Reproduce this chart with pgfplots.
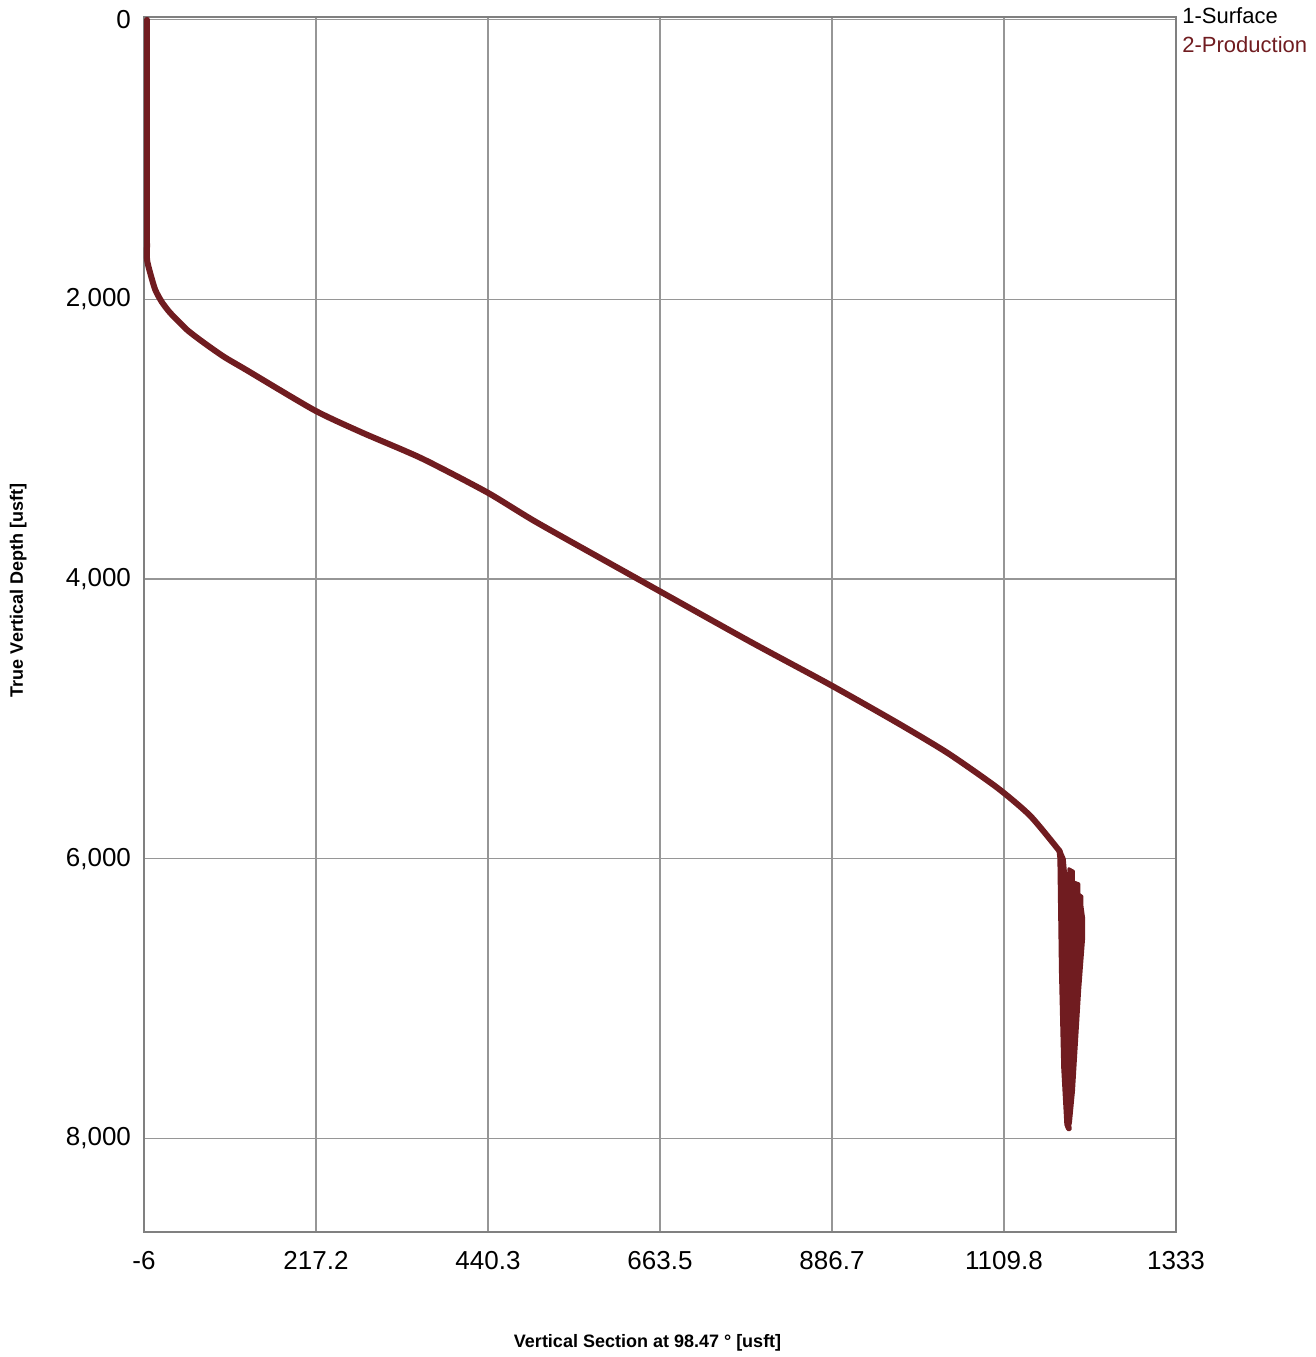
\documentclass[border=0pt]{standalone}
\usepackage{pgfplots}
\pgfplotsset{compat=1.18}
\usepackage{fontspec}
\setmainfont{Liberation Sans}
\definecolor{prod}{RGB}{112,28,32}
\definecolor{gridc}{RGB}{150,150,150}
\begin{document}
\begin{tikzpicture}
\useasboundingbox (0,0) rectangle (658pt,678.5pt);
\begin{axis}[
  at={(72pt,62.5pt)}, anchor=south west,
  scale only axis, width=516pt, height=607.5pt,
  xmin=-6, xmax=1333, ymin=-20, ymax=8670,
  y dir=reverse,
  xtick={-6,217.2,440.3,663.5,886.7,1109.8,1333},
  xticklabels={-6,217.2,440.3,663.5,886.7,1109.8,1333},
  ytick={0,2000,4000,6000,8000},
  yticklabels={0,{2,000},{4,000},{6,000},{8,000}},
  major tick length=0pt,
  grid=major,
  major grid style={gridc, line width=0.6pt},
  axis line style={gridc!85!black, line width=0.8pt},
  tick label style={font=\fontsize{13}{15}\selectfont},
  /pgf/number format/assume math mode=true,
  xticklabel style={yshift=-6pt},
  yticklabel style={xshift=-3pt},
  xlabel={\bfseries Vertical Section at 98.47 ° [usft]},
  ylabel={\bfseries True Vertical Depth [usft]},
  label style={font=\fontsize{9}{11}\selectfont},
  xlabel style={at={(axis description cs:0.488,-0.0914)}, anchor=center},
  ylabel style={at={(axis description cs:-0.122,0.528)}, anchor=center, rotate=0},
  legend style={at={(rel axis cs:1,1)}, anchor=north west, draw=none, fill=none,
    font=\fontsize{11}{13}\selectfont, xshift=0pt, yshift=9pt, inner xsep=1pt,
    row sep=1pt},
  legend cell align=left,
  legend image code/.code={},
]
\addplot[black, line width=3.3pt] coordinates {(-2,0) (-2,1700)};
\addlegendentry{1-Surface}
\addplot[prod, line width=3pt, line join=round, line cap=round] coordinates {
(-2,0) (-2,800) (-2,1500) (-2,1717)
};
\addlegendentry{\textcolor{prod}{2-Production}}
\addplot[prod, line width=3pt, line join=round, line cap=round, smooth, tension=0.4, forget plot] coordinates {
(-2,1600) (-2,1717) (2,1810) (8.6,1931) (17,2017) (28,2096) (50,2218) (72,2311)
(98,2411) (127,2505) (215,2792) (276,2950) (354,3136)
(439,3379) (504,3596) (633,3994) (779,4443) (884,4755) (972,5030) (1037,5245)
(1101,5492) (1144,5694) (1182,5946)
};
\addplot[prod, line width=3pt, line join=round, line cap=round, forget plot] coordinates {
(1182,5946) (1183,6000) (1185,6800) (1188,7500) (1192,7900) (1194,7928)
};
\addplot[prod, fill=prod, line width=1.5pt, line join=round, forget plot] coordinates {
(1182,5946) (1183,6300) (1185,6800) (1187,7300) (1189,7700) (1192,7900) (1194,7928)
(1196,7890) (1200,7661) (1204,7300) (1208,6939) (1213,6578) (1213,6420) (1211,6339)
(1211,6270) (1207,6253) (1207,6180) (1200,6166) (1200,6090) (1194,6072) (1194,6100)
(1190,6120) (1188,6000) (1184,5950)
} -- cycle;
\end{axis}
\end{tikzpicture}
\end{document}
